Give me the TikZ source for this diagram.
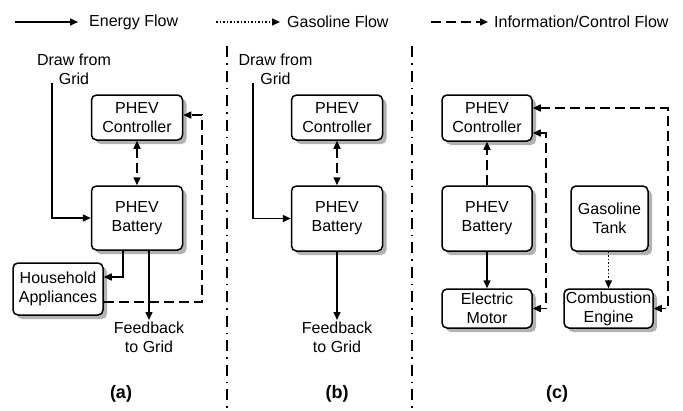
\documentclass[tikz,border=0pt]{standalone}
\usepackage{fontspec}
\setmainfont{Liberation Sans}
\usepackage{tikz}
\usetikzlibrary{arrows.meta,shadows}
\tikzset{
  box/.style={draw=black, line width=1.5pt, rounded corners=5pt, fill=white,
    align=center, inner sep=0pt, font=\fontsize{16}{19}\selectfont,
    drop shadow={shadow xshift=4pt, shadow yshift=-4pt, fill=black!30, opacity=1}},
  lab/.style={align=center, inner sep=2pt, font=\fontsize{16}{19}\selectfont},
  tag/.style={font=\fontsize{18}{20}\selectfont\bfseries},
  tip/.style={-{Triangle[length=8pt,width=7pt]}},
  dtip/.style={{Triangle[length=8pt,width=7pt]}-{Triangle[length=8pt,width=7pt]}},
  energy/.style={draw=black, line width=1.5pt},
  gas/.style={line width=1.5pt, dash pattern=on 1.5pt off 2pt},
  info/.style={line width=1.5pt, dash pattern=on 10pt off 5pt},
  divider/.style={line width=1.5pt, dash pattern=on 11pt off 6pt on 1.5pt off 6pt},
}

\begin{document}
\begin{tikzpicture}[x=1pt, y=-1pt]
  \useasboundingbox (0,0) rectangle (683,410);
  % legend
  \coordinate (e0) at (15,22);
  \coordinate (g0) at (216,22);
  \coordinate (i0) at (431,22);
  \node[lab, anchor=west] (legE) at (87,22) {Energy Flow};
  \node[lab, anchor=west] (legG) at (285,22) {Gasoline Flow};
  \node[lab, anchor=west] (legI) at (492,22) {Information/Control Flow};
  \draw[energy,tip] (e0) -- ([xshift=-9pt]legE.west);
  \draw[gas,tip] (g0) -- ([xshift=-5pt]legG.west);
  \draw[info,tip] (i0) -- ([xshift=-4pt]legI.west);

  % panel dividers
  \draw[divider] (227,46) -- (227,410);
  \draw[divider] (412,46) -- (412,410);

  % (a)
  \node[box, minimum width=91pt, minimum height=45pt] (ctrlA) at (137,117.5) {PHEV\\Controller};
  \node[box, minimum width=91pt, minimum height=64pt] (batA) at (137,218) {PHEV\\Battery};
  \node[box, minimum width=90pt, minimum height=52pt] (appA) at (58,289) {Household\\Appliances};
  \node[lab] (drawA) at (74,69) {Draw from\\Grid};
  \node[lab, anchor=north] (fbA) at (149,320) {Feedback\\to Grid};
  \coordinate (gridA) at (52,83);
  \draw[energy,tip] (gridA) |- (batA.west);
  \draw[info,dtip] (ctrlA) -- (batA);
  \draw[energy,tip] ([xshift=-14pt]batA.south) |- ([yshift=12pt]appA.east);
  \draw[energy,tip] (fbA.north |- batA.south) -- (fbA.north);
  \draw[info,tip] ([yshift=-13pt]appA.east) -- ++(98,0) |- ([yshift=2.5pt]ctrlA.east);

  % (b)
  \node[box, minimum width=91pt, minimum height=45pt] (ctrlB) at (337,117.5) {PHEV\\Controller};
  \node[box, minimum width=91pt, minimum height=65pt] (batB) at (337,218.5) {PHEV\\Battery};
  \node[lab] (drawB) at (275.5,69) {Draw from\\Grid};
  \node[lab, anchor=north] (fbB) at (337,320) {Feedback\\to Grid};
  \coordinate (gridB) at (253,83);
  \draw[info,dtip] (ctrlB) -- (batB);
  \draw[line width=1.5pt, -{Triangle[length=8pt,width=7pt]}] (gridB) |- (batB.west);
  \draw[line width=1.5pt, -{Triangle[length=8pt,width=7pt]}] (batB.south) -- (fbB.north);

  % (c)
  \node[box, minimum width=90pt, minimum height=46pt] (ctrlC) at (487,118) {PHEV\\Controller};
  \node[box, minimum width=90pt, minimum height=65pt] (batC) at (487,218.5) {PHEV\\Battery};
  \node[box, minimum width=90pt, minimum height=39pt] (motC) at (487,308.5) {Electric\\Motor};
  \node[box, minimum width=77pt, minimum height=65pt] (tankC) at (609.5,218.5) {Gasoline\\Tank};
  \node[box, minimum width=89pt, minimum height=39pt] (engC) at (608.5,308.5) {Combustion\\Engine};
  \draw[info,tip] (batC) -- (ctrlC);
  \draw[energy,tip] (batC) -- (motC);
  \draw[gas,tip] (tankC.south -| engC.north) -- (engC.north);
  \draw[info,dtip] ([yshift=10pt]ctrlC.east) -- ++(135,0) |- (engC.east);
  \draw[info,dtip] ([yshift=-15pt]ctrlC.east) -- ++(13,0) |- (motC.east);

  % panel tags
  \node[tag] (tagA) at (121,394) {(a)};
  \node[tag] (tagB) at (337,394) {(b)};
  \node[tag] (tagC) at (557,394) {(c)};
\end{tikzpicture}
\end{document}
